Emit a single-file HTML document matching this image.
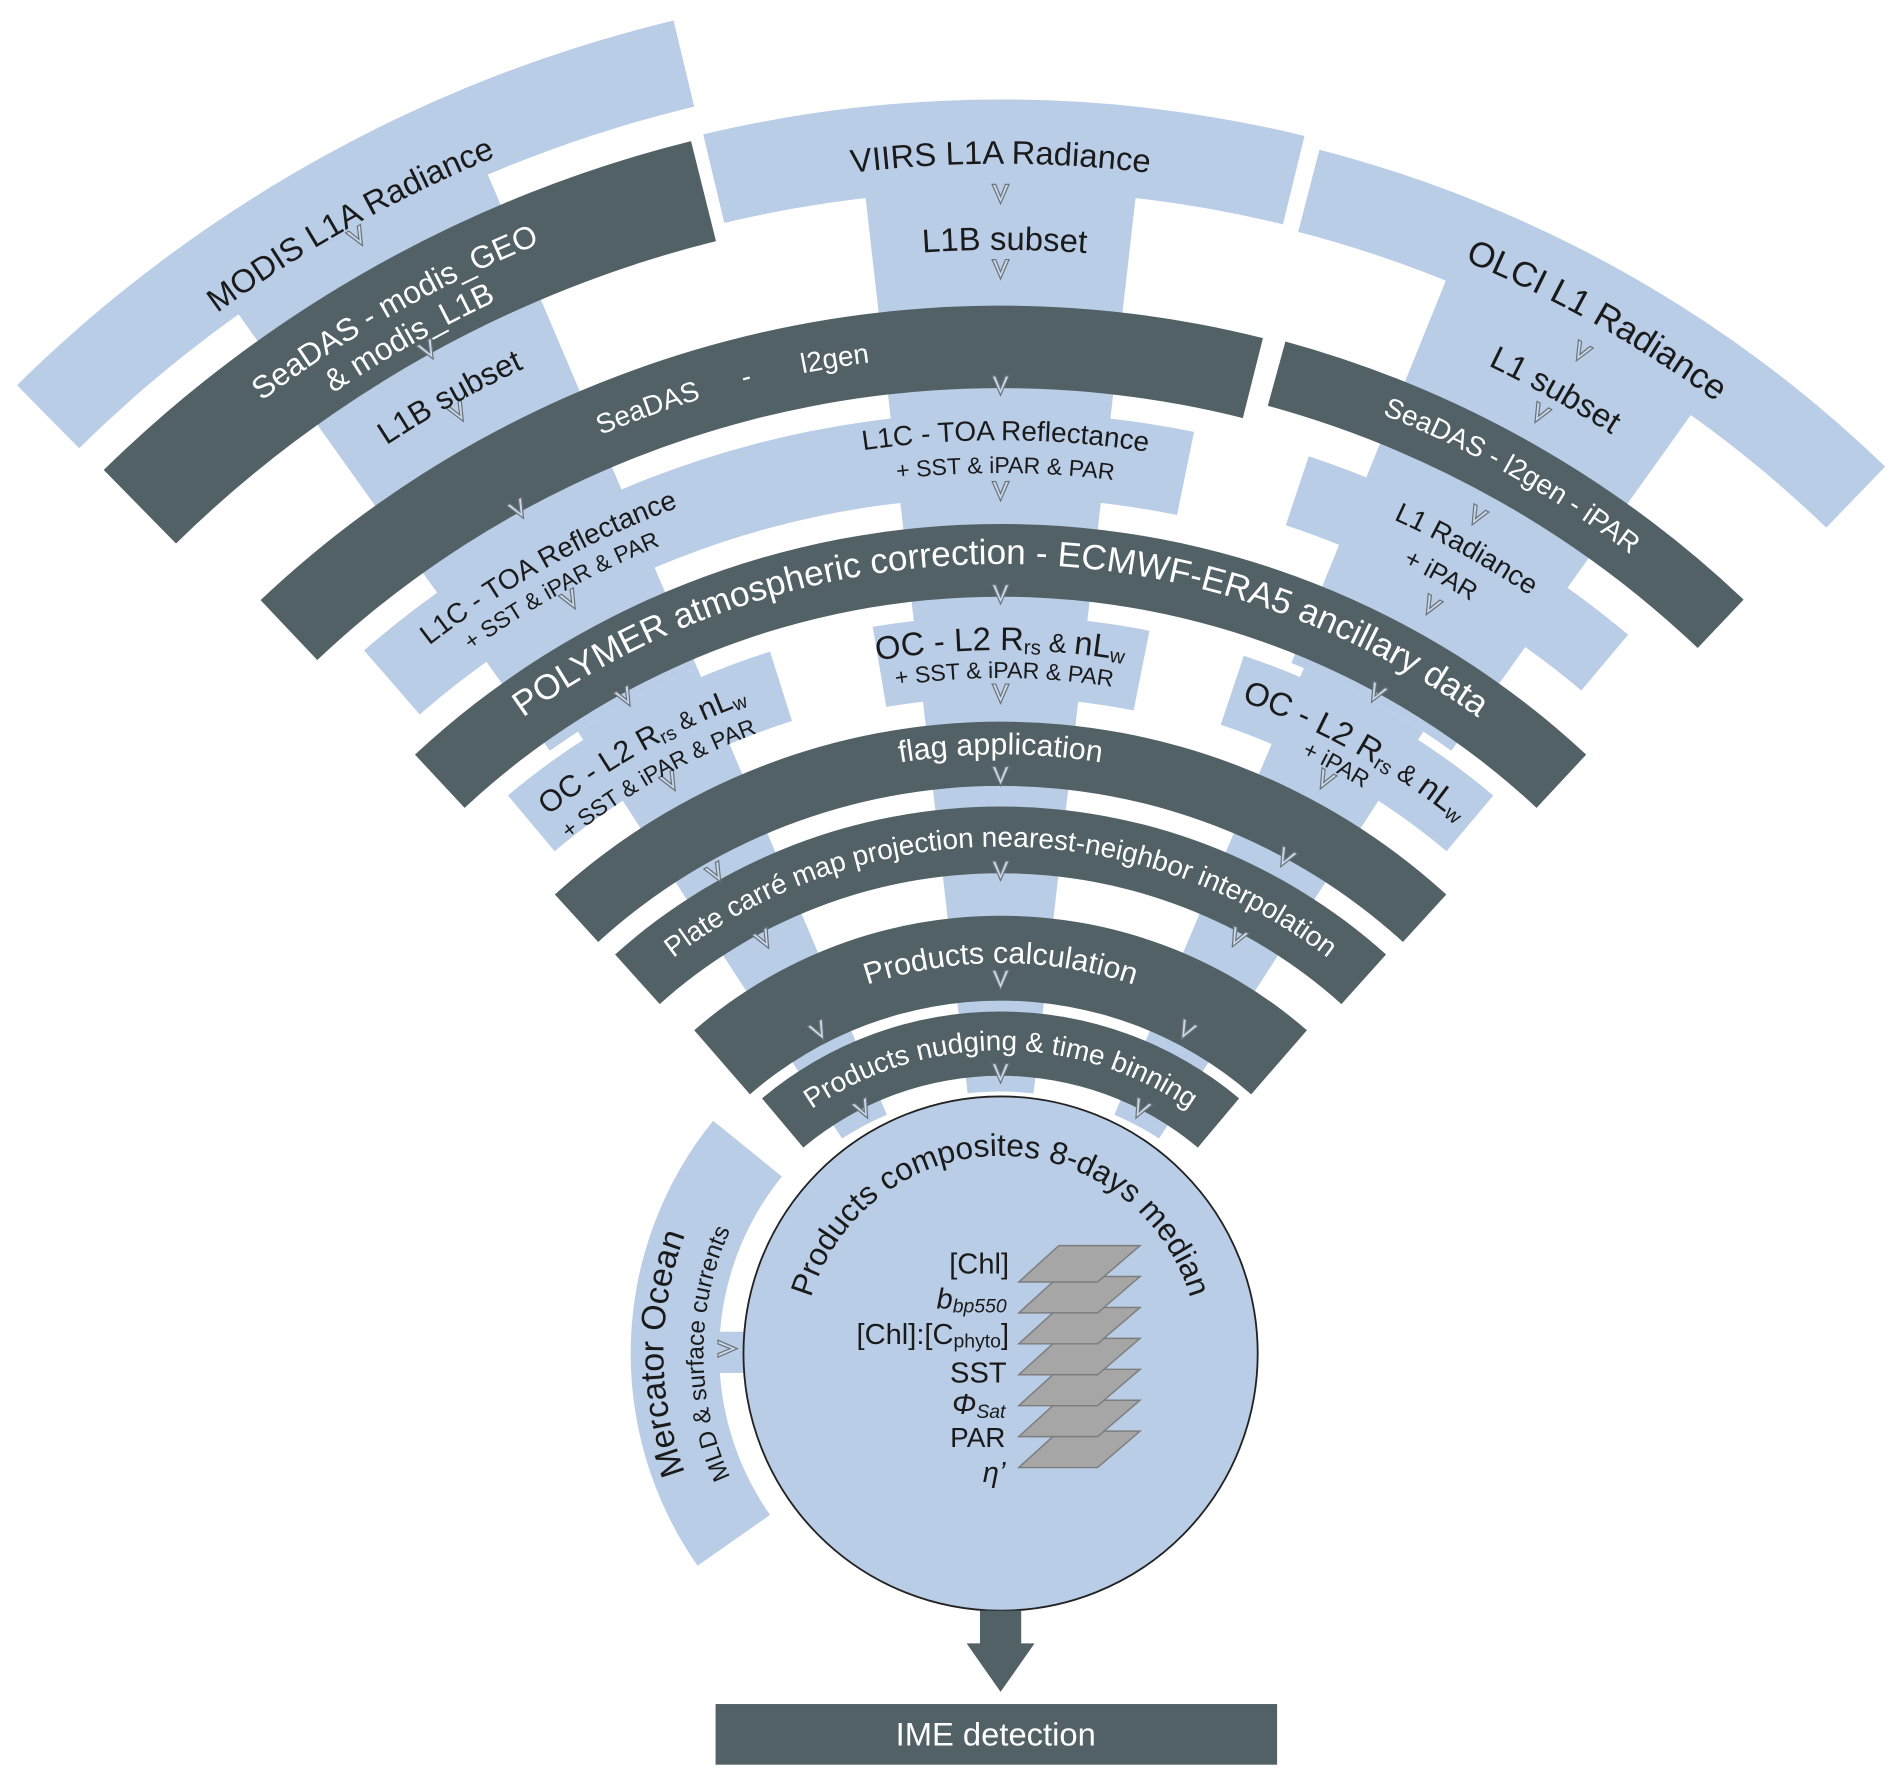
<!DOCTYPE html>
<html><head><meta charset="utf-8"><style>
html,body{margin:0;padding:0;background:#fff;}
svg{display:block;}
text{font-family:"Liberation Sans",sans-serif;}
.w{fill:#fff}.k{fill:#1a1a1a}
</style></head><body>
<svg id="s" width="1892" height="1775" viewBox="0 0 1560 1463.5" preserveAspectRatio="none" xmlns="http://www.w3.org/2000/svg" xmlns:xlink="http://www.w3.org/1999/xlink">
<defs>
<path id="p_modis"/><path id="p_sd1"/><path id="p_sd2"/><path id="p_l1bL"/>
<path id="p_sdA"/><path id="p_sdB"/><path id="p_sdC"/>
<path id="p_l1cL"/><path id="p_l1cL2"/><path id="p_l1cM"/><path id="p_l1cM2"/>
<path id="p_poly"/><path id="p_ocM"/><path id="p_ocM2"/><path id="p_ocL"/><path id="p_ocL2"/>
<path id="p_l1r"/><path id="p_l1r2"/><path id="p_ocR"/><path id="p_ocR2"/>
<path id="p_flag"/><path id="p_plate"/><path id="p_calc"/><path id="p_nudge"/>
<path id="p_olci"/><path id="p_l1s"/><path id="p_sdR"/><path id="p_viirs"/><path id="p_l1bM"/>
<path id="p_comp"/><path id="p_merc"/><path id="p_mld"/>
</defs>
<g id="shapes"></g>
<circle cx="825" cy="1116" r="212" fill="#b9cde7" stroke="#222" stroke-width="1.5"/>
<g id="arrows"></g>
<g font-size="27">
<text class="k" font-size="27"><textPath href="#p_modis" startOffset="50%" text-anchor="middle">MODIS L1A Radiance</textPath></text>
<text class="w" font-size="26"><textPath href="#p_sd1" startOffset="50%" text-anchor="middle">SeaDAS - modis_GEO</textPath></text>
<text class="w" font-size="26"><textPath href="#p_sd2" startOffset="50%" text-anchor="middle">&amp; modis_L1B</textPath></text>
<text class="k" font-size="26"><textPath href="#p_l1bL" startOffset="50%" text-anchor="middle">L1B subset</textPath></text>
<text class="w" font-size="23"><textPath href="#p_sdA" startOffset="50%" text-anchor="middle">SeaDAS</textPath></text>
<text class="w" font-size="23"><textPath href="#p_sdB" startOffset="50%" text-anchor="middle">-</textPath></text>
<text class="w" font-size="23"><textPath href="#p_sdC" startOffset="50%" text-anchor="middle">l2gen</textPath></text>
<text class="k" font-size="23"><textPath href="#p_l1cL" startOffset="50%" text-anchor="middle">L1C - TOA Reflectance</textPath></text>
<text class="k" font-size="19"><textPath href="#p_l1cL2" startOffset="50%" text-anchor="middle">+ SST &amp; iPAR &amp; PAR</textPath></text>
<text class="k" font-size="23"><textPath href="#p_l1cM" startOffset="50%" text-anchor="middle">L1C - TOA Reflectance</textPath></text>
<text class="k" font-size="19"><textPath href="#p_l1cM2" startOffset="50%" text-anchor="middle">+ SST &amp; iPAR &amp; PAR</textPath></text>
<text class="w" font-size="29"><textPath href="#p_poly" startOffset="50%" text-anchor="middle">POLYMER atmospheric correction - ECMWF-ERA5 ancillary data</textPath></text>
<text class="k" font-size="27"><textPath href="#p_ocM" startOffset="50%" text-anchor="middle">OC - L2 R<tspan font-size="17" dy="3">rs</tspan><tspan dy="-3" font-size="22"> &amp; </tspan>nL<tspan font-size="17" dy="3">w</tspan></textPath></text>
<text class="k" font-size="19"><textPath href="#p_ocM2" startOffset="50%" text-anchor="middle">+ SST &amp; iPAR &amp; PAR</textPath></text>
<text class="k" font-size="25"><textPath href="#p_ocL" startOffset="50%" text-anchor="middle">OC - L2 R<tspan font-size="16" dy="3">rs</tspan><tspan dy="-3" font-size="20"> &amp; </tspan>nL<tspan font-size="16" dy="3">w</tspan></textPath></text>
<text class="k" font-size="19"><textPath href="#p_ocL2" startOffset="50%" text-anchor="middle">+ SST &amp; iPAR &amp; PAR</textPath></text>
<text class="k" font-size="23"><textPath href="#p_l1r" startOffset="50%" text-anchor="middle">L1 Radiance</textPath></text>
<text class="k" font-size="21"><textPath href="#p_l1r2" startOffset="50%" text-anchor="middle">+ iPAR</textPath></text>
<text class="k" font-size="27"><textPath href="#p_ocR" startOffset="50%" text-anchor="middle">OC - L2 R<tspan font-size="17" dy="3">rs</tspan><tspan dy="-3" font-size="22"> &amp; </tspan>nL<tspan font-size="17" dy="3">w</tspan></textPath></text>
<text class="k" font-size="19"><textPath href="#p_ocR2" startOffset="50%" text-anchor="middle">+ iPAR</textPath></text>
<text class="w" font-size="25"><textPath href="#p_flag" startOffset="50%" text-anchor="middle">flag application</textPath></text>
<text class="w" font-size="23"><textPath href="#p_plate" startOffset="50%" text-anchor="middle">Plate carré map projection nearest-neighbor interpolation</textPath></text>
<text class="w" font-size="25"><textPath href="#p_calc" startOffset="50%" text-anchor="middle">Products calculation</textPath></text>
<text class="w" font-size="23"><textPath href="#p_nudge" startOffset="50%" text-anchor="middle">Products nudging &amp; time binning</textPath></text>
<text class="k" font-size="29"><textPath href="#p_olci" startOffset="50%" text-anchor="middle">OLCI L1 Radiance</textPath></text>
<text class="k" font-size="27"><textPath href="#p_l1s" startOffset="50%" text-anchor="middle">L1 subset</textPath></text>
<text class="w" font-size="23"><textPath href="#p_sdR" startOffset="50%" text-anchor="middle">SeaDAS - l2gen - iPAR</textPath></text>
<text class="k" font-size="27"><textPath href="#p_viirs" startOffset="50%" text-anchor="middle">VIIRS L1A Radiance</textPath></text>
<text class="k" font-size="27"><textPath href="#p_l1bM" startOffset="50%" text-anchor="middle">L1B subset</textPath></text>
<text class="k" font-size="26"><textPath href="#p_comp" startOffset="50%" text-anchor="middle">Products composites 8-days median</textPath></text>
<text class="k" font-size="28"><textPath href="#p_merc" startOffset="50%" text-anchor="middle">Mercator Ocean</textPath></text>
<text class="k" font-size="20"><textPath href="#p_mld" startOffset="50%" text-anchor="middle">MLD &amp; surface currents</textPath></text>
</g>
<g id="layers" fill="#a6a6a6" stroke="#7d7d7d" stroke-width="1.2"></g>
<g class="k" text-anchor="end">
<text x="832" y="1050" font-size="24">[Chl]</text>
<text x="830" y="1079" font-size="24" font-style="italic">b<tspan font-size="16" dy="3">bp550</tspan></text>
<text x="832" y="1108" font-size="24">[Chl]:[C<tspan font-size="16" dy="3">phyto</tspan><tspan dy="-3">]</tspan></text>
<text x="830" y="1140" font-size="24">SST</text>
<text x="829" y="1166" font-size="24" font-style="italic">Φ<tspan font-size="16" dy="3">Sat</tspan></text>
<text x="829" y="1193" font-size="23">PAR</text>
<text x="829" y="1222" font-size="24" font-style="italic">η’</text>
</g>
<rect x="808" y="1328" width="34" height="28" fill="#526165"/>
<polygon points="797,1355 853,1355 825,1395" fill="#526165"/>
<rect x="590" y="1405" width="463" height="50" fill="#526165"/>
<text x="821" y="1439" font-size="27" class="w" text-anchor="middle">IME detection</text>
</svg>
<script>
(function(){
var C=[825,1140], CC=[825,1116];
function P(r,a,c){c=c||C;var t=a*Math.PI/180;return (c[0]+r*Math.sin(t)).toFixed(2)+","+(c[1]-r*Math.cos(t)).toFixed(2);}
function band(r1,r2,a1,a2,c){var lg=(a2-a1)>180?1:0;return "M"+P(r2,a1,c)+" A"+r2+" "+r2+" 0 "+lg+" 1 "+P(r2,a2,c)+" L"+P(r1,a2,c)+" A"+r1+" "+r1+" 0 "+lg+" 0 "+P(r1,a1,c)+"Z";}
function arc(r,a,span,c){return "M"+P(r,a-span,c)+" A"+r+" "+r+" 0 0 1 "+P(r,a+span,c);}
var L="#b9cde7",D="#526165";
var shapes=[
 [640,1120,-35.5,-23,L],[240,640,-33,-23,L],
 [240,990,-6.5,6.5,L],
 [640,1040,22,35.5,L],[240,640,23,33,L],
 [1082,1155,-44.6,-13.5,L],
 [983,1058,-13.4,13.7,L],
 [980,1050,14.5,44,L],
 [730,800,-41,11.5,L],
 [745,805,18.4,40,L],
 [572,632,-40,-17.5,L],[565,632,-9.6,11.2,L],[572,632,18.5,40,L],
 [970,1055,-44.5,-14,D],
 [820,888,-43.4,14.1,D],
 [835,890,15.3,43.5,D],
 [648,708,-43,43,D],
 [492,545,-42.4,42.4,D],
 [420,475,-42,42,D],
 [315,385,-41,41,D],
 [253,306,-40,40,D]
];
var NS="http://www.w3.org/2000/svg";
var g=document.getElementById("shapes");
shapes.forEach(function(s){var p=document.createElementNS(NS,"path");p.setAttribute("d",band(s[0],s[1],s[2],s[3]));p.setAttribute("fill",s[4]);g.appendChild(p);});
var m=document.createElementNS(NS,"path");m.setAttribute("d",band(232,305,-125,-51,CC));m.setAttribute("fill",L);g.appendChild(m);
var tb=document.createElementNS(NS,"rect");tb.setAttribute("x",588);tb.setAttribute("y",1098);tb.setAttribute("width",40);tb.setAttribute("height",34);tb.setAttribute("fill",L);g.appendChild(tb);
var T={p_modis:[1093,-29.3],p_sd1:[1013,-29.5],p_sd2:[984,-29.5],p_l1bL:[924,-29.2],
p_sdA:[848,-19.9],p_sdB:[848,-14.2],p_sdC:[848,-9.2],
p_l1cL:[769,-29],p_l1cL2:[745,-29],p_l1cM:[777,0.3],p_l1cM2:[750,0.3],
p_poly:[675,0],p_ocM:[604,0],p_ocM2:[581,0.3],p_ocL:[598,-29.5],p_ocL2:[572,-29.5],
p_l1r:[782,29.2],p_l1r2:[752,28.6],p_ocR:[596,29.3],p_ocR2:[574,28.5],
p_flag:[518,0],p_plate:[442,0],p_calc:[346,0],p_nudge:[274,0],
p_olci:[1001,29.3],p_l1s:[930,29.2],p_sdR:[858,29.4],p_viirs:[1005,0],p_l1bM:[934,0.2]};
for(var k in T){document.getElementById(k).setAttribute("d",arc(T[k][0],T[k][1],60));}
document.getElementById("p_comp").setAttribute("d",arc(163,0,85,CC));
document.getElementById("p_merc").setAttribute("d",arc(278,-90,60,CC));
document.getElementById("p_mld").setAttribute("d",arc(245,-90,60,CC));
var ar=document.getElementById("arrows");
function V(x,y,rot){var p=document.createElementNS(NS,"path");p.setAttribute("d","M-7,-8 L0,8 L7,-8 L4,-8 L0,2 L-4,-8 Z");p.setAttribute("fill","#c9d8ec");p.setAttribute("stroke","#6b7378");p.setAttribute("stroke-width","1");p.setAttribute("transform","translate("+x+","+y+") rotate("+rot+")");ar.appendChild(p);}
function VA(r,a){var t=a*Math.PI/180;V(C[0]+r*Math.sin(t),C[1]-r*Math.cos(t),a);}
[980,918,822,735,650,568,500,422,332,255].forEach(function(r){VA(r,0);});
[[1083,-29.3],[973,-29],[916,-29.2],[822,-28.9],[736,-28.8],[644,-28.7],[565,-28.8],[481,-29.2],[414,-28.1],[326,-27.3],[252,-26.7]].forEach(function(a){VA(a[0],a[1]);});
[[975,29.4],[914,29.1],[815,28.8],[732,29],[647,28.6],[564,28.3],[492,28.5],[415,28],[328,27.8],[253,27.1]].forEach(function(a){VA(a[0],a[1]);});
V(600,1112,-90);
var ly=document.getElementById("layers");
for(var i=6;i>=0;i--){var y=1027+25.5*i;var q=document.createElementNS(NS,"polygon");q.setAttribute("points","873,"+y+" 940,"+y+" 905,"+(y+30)+" 840,"+(y+30));ly.appendChild(q);}
})();
</script>
</body></html>
